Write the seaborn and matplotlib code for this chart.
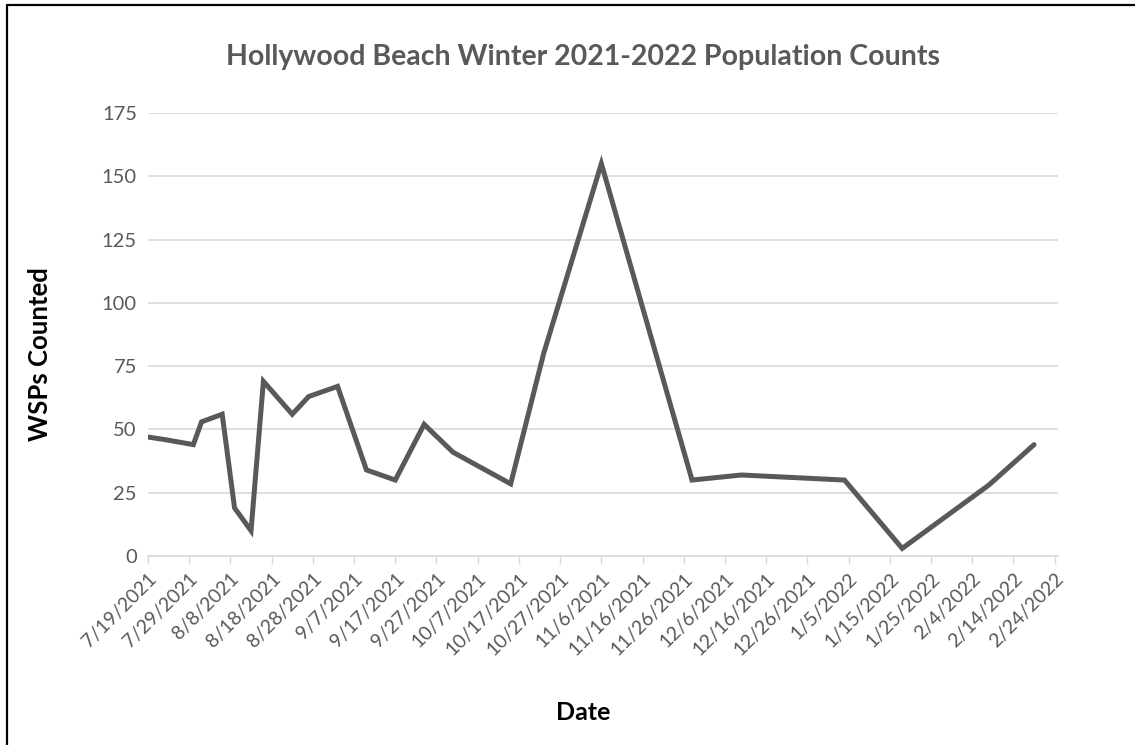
import matplotlib
matplotlib.use("Agg")
import matplotlib.pyplot as plt
import matplotlib.dates as mdates
from matplotlib.lines import Line2D
import seaborn as sns
import pandas as pd

dates = ["2021-07-19", "2021-07-23", "2021-07-30", "2021-08-01", "2021-08-06",
         "2021-08-09", "2021-08-13", "2021-08-16", "2021-08-23", "2021-08-27",
         "2021-09-03", "2021-09-10", "2021-09-17", "2021-09-24", "2021-10-01",
         "2021-10-15", "2021-10-23", "2021-11-06", "2021-11-28", "2021-12-10",
         "2022-01-04", "2022-01-18", "2022-02-08", "2022-02-19"]
counts = [47, 46, 44, 53, 56, 19, 10, 69, 56, 63, 67, 34, 30, 52, 41, 28.5,
          80, 155, 30, 32, 30, 3, 28, 44]
y_ticks = [0, 25, 50, 75, 100, 125, 150, 175]
title = "Hollywood Beach Winter 2021-2022 Population Counts"
x_label = "Date"
y_label = "WSPs Counted"

df = pd.DataFrame({"Date": pd.to_datetime(dates), "Count": counts})

sns.set_theme(style="white")
plt.rcParams["font.family"] = ["Lato", "DejaVu Sans"]

W, H = 1135, 745
fig = plt.figure(figsize=(W / 100, H / 100), dpi=100)
L, R, T, B = 148, 1058, 113, 556
ax = fig.add_axes([L / W, 1 - B / H, (R - L) / W, (B - T) / H])

sns.lineplot(data=df, x="Date", y="Count", ax=ax, color="#595959",
             linewidth=3.6, solid_joinstyle="miter")

start = pd.Timestamp("2021-07-19")
tick_dates = pd.date_range(start, "2022-02-24", freq="10D")
ax.set_xlim(start, pd.Timestamp("2022-02-24") + pd.Timedelta(days=0.8))
ax.set_ylim(0, 175)
ax.set_yticks(y_ticks)
ax.set_yticklabels([str(v) for v in y_ticks], color="#595959", fontsize=14.5)
ax.set_xticks(tick_dates)
ax.set_xticklabels([f"{d.month}/{d.day}/{d.year}" for d in tick_dates],
                   rotation=45, ha="right", rotation_mode="anchor",
                   color="#595959", fontsize=14)
ax.tick_params(axis="x", which="major", length=6, width=1, color="#d9d9d9",
               direction="out", pad=4, bottom=True)
ax.tick_params(axis="y", length=0, pad=8)
ax.grid(axis="y", color="#d9d9d9", linewidth=1.2)
ax.set_axisbelow(True)
for s in ["top", "right", "left"]:
    ax.spines[s].set_visible(False)
ax.spines["bottom"].set_color("#d9d9d9")
ax.spines["bottom"].set_linewidth(1.2)
ax.set_xlabel("")
ax.set_ylabel("")

fig.text(583 / W, 1 - 57 / H, title, ha="center", va="center",
         fontsize=20.5, fontweight="bold", color="#595959")
fig.text(583 / W, 1 - 712 / H, x_label, ha="center", va="center",
         fontsize=18, fontweight="bold", color="black")
fig.text(40 / W, 1 - 354 / H, y_label, ha="center", va="center",
         rotation=90, fontsize=18.5, fontweight="bold", color="black")

# outer chart border (left and top)
fig.add_artist(Line2D([7 / W, 7 / W], [0, 1 - 5 / H], color="black",
                      linewidth=1.6, transform=fig.transFigure))
fig.add_artist(Line2D([7 / W, 1], [1 - 5 / H, 1 - 5 / H], color="black",
                      linewidth=1.6, transform=fig.transFigure))

fig.savefig("out.png", dpi=100, facecolor="white")
